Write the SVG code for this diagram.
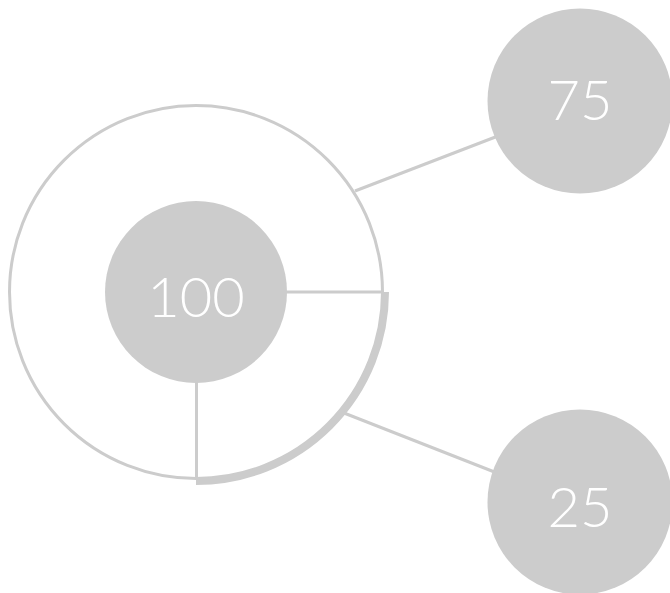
<svg xmlns="http://www.w3.org/2000/svg" width="670" height="593" viewBox="0 0 670 593">
<style>
.ln{stroke:#cccccc;stroke-width:3;fill:none}
.nd{fill:#cccccc}
.lb{fill:#ffffff;font-family:Lato,"Open Sans",sans-serif;font-weight:300;font-size:56px;text-anchor:middle}
</style>
<rect width="670" height="593" fill="#ffffff"/>
<g id="ring">
<circle class="ln" cx="196" cy="292" r="186.5"/>
<path d="M385.5,292 A189.5,189.5 0 0 1 196,481.5" stroke="#cccccc" stroke-width="7" fill="none"/>
</g>
<g id="connectors">
<line class="ln" x1="286" y1="292" x2="384" y2="292"/>
<line class="ln" x1="196.5" y1="382" x2="196.5" y2="478"/>
<line class="ln" x1="355" y1="191" x2="498" y2="136"/>
<line class="ln" x1="344" y1="413" x2="497" y2="473"/>
</g>
<g id="node100">
<circle class="nd" cx="196" cy="292" r="91"/>
<text class="lb" x="196" y="317">100</text>
</g>
<g id="node75">
<circle class="nd" cx="580" cy="101" r="92.5"/>
<text class="lb" x="580" y="120">75</text>
</g>
<g id="node25">
<circle class="nd" cx="580" cy="502" r="92.5"/>
<text class="lb" x="580" y="527">25</text>
</g>
</svg>
